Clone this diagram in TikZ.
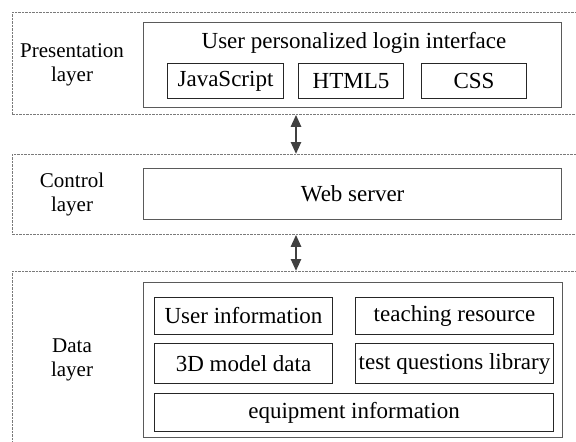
\documentclass[tikz,border=0pt]{standalone}
\usepackage{fontspec}
\setmainfont{Liberation Serif}
\usetikzlibrary{arrows.meta}
\definecolor{dashgray}{HTML}{7A7A7A}
\definecolor{boxgray}{HTML}{5A5A5A}
\definecolor{itemgray}{HTML}{262626}
\definecolor{arrgray}{HTML}{404040}
\begin{document}
\begin{tikzpicture}[x=1pt,y=-1pt,
  layerbox/.style={draw=dashgray, line width=0.8pt, dash pattern=on 2.5pt off 1pt, rectangle, inner sep=0pt, anchor=north west},
  groupbox/.style={draw=boxgray, line width=1.3pt, rectangle, inner sep=0pt, anchor=north west},
  itembox/.style={draw=itemgray, line width=1pt, rectangle, inner sep=0pt, anchor=north west, font=\fontsize{23}{27}\selectfont},
  lbl/.style={align=center, font=\fontsize{21}{24}\selectfont},
  ttl/.style={font=\fontsize{23}{27}\selectfont, anchor=base},
  arr/.style={{Triangle[width=10pt,length=12pt]}-{Triangle[width=10pt,length=12pt]}, line width=2.5pt, draw=arrgray}]
\useasboundingbox (0,0) rectangle (576,442);
\clip (0,0) rectangle (576,442);
% layers
\node[layerbox, minimum width=578pt, minimum height=102pt] (pres) at (12,12) {};
\node[layerbox, minimum width=578pt, minimum height=80pt] (ctrl) at (12,154) {};
\node[layerbox, minimum width=578pt, minimum height=200pt] (data) at (12,271) {};
% labels
\node[lbl] (lpres) at (72,65) {Presentation\\layer};
\node[lbl] (lctrl) at (72,194) {Control\\layer};
\node[lbl] (ldata) at (72,360) {Data\\layer};
% presentation
\node[groupbox, minimum width=418pt, minimum height=85pt] (ui) at (143,22) {};
\node[ttl] (uititle) at (354,48) {User personalized login interface};
\node[itembox, minimum width=116pt, minimum height=35pt] (js) at (167,63) {JavaScript};
\node[itembox, minimum width=105pt, minimum height=35pt] (html) at (298,63) {HTML5};
\node[itembox, minimum width=105pt, minimum height=35pt] (css) at (421,63) {CSS};
% control
\node[groupbox, minimum width=418pt, minimum height=51pt, font=\fontsize{23}{27}\selectfont] (web) at (143,168) {Web server};
% data
\node[groupbox, minimum width=419pt, minimum height=155pt] (dl) at (143,282) {};
\node[itembox, minimum width=178pt, minimum height=37pt] (uinfo) at (154,297) {User information};
\node[itembox, minimum width=198pt, minimum height=37pt] (teach) at (355,297) {teaching resource};
\node[itembox, minimum width=178pt, minimum height=40pt] (model) at (154,343) {3D model data};
\node[itembox, minimum width=198pt, minimum height=40pt] (test) at (355,343) {test questions library};
\node[itembox, minimum width=399pt, minimum height=38pt] (equip) at (154,393) {equipment information};
% arrows
\coordinate (ax) at (296,0);
\draw[arr] (pres.south -| ax) -- (ctrl.north -| ax);
\draw[arr] (ctrl.south -| ax) -- (data.north -| ax);
\end{tikzpicture}
\end{document}
